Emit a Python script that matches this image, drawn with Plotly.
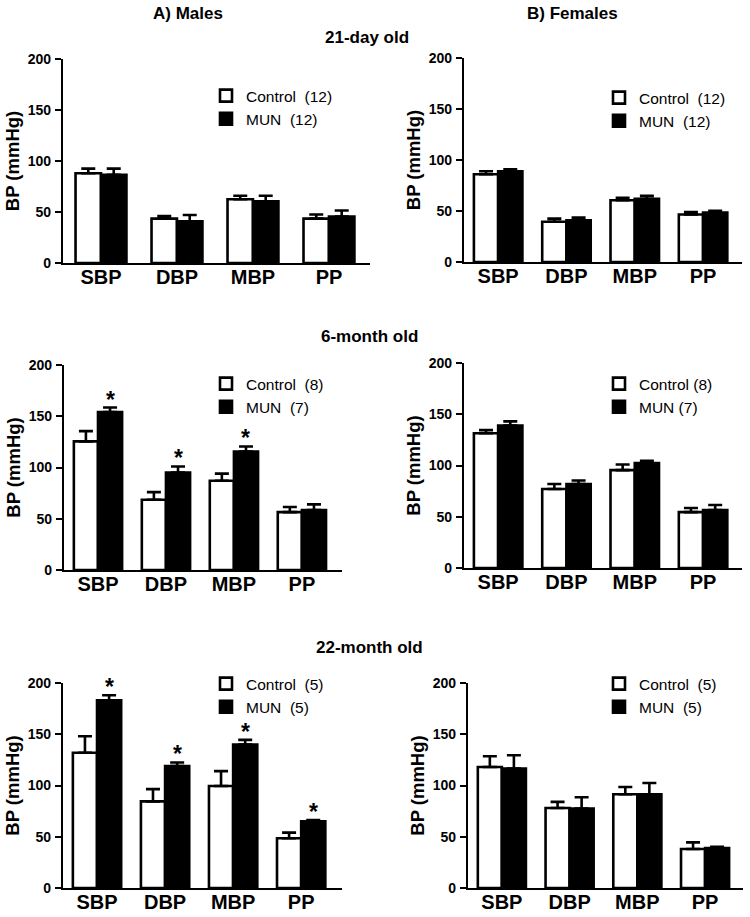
import plotly.graph_objects as go

W, H = 750, 917

categories = ["SBP", "DBP", "MBP", "PP"]

# Males, 21-day old
m21_ctrl = [88, 43.5, 62.5, 43.5]
m21_ctrl_err = [4.5, 2.5, 3.5, 4]
m21_mun = [86.5, 41, 60.5, 45.5]
m21_mun_err = [6, 6, 5.5, 6]
m21_sig = [0, 0, 0, 0]
# Females, 21-day old
f21_ctrl = [86, 39.5, 60.5, 46.5]
f21_ctrl_err = [3, 3, 2.5, 2.5]
f21_mun = [89, 41, 62, 48.5]
f21_mun_err = [2, 2.5, 3, 1.7]
f21_sig = [0, 0, 0, 0]
# Males, 6-month old
m6_ctrl = [125.5, 68.5, 87, 56.5]
m6_ctrl_err = [10, 7.5, 7, 5]
m6_mun = [154, 95, 115.5, 58.5]
m6_mun_err = [4.5, 6, 5, 5.5]
m6_sig = [1, 1, 1, 0]
# Females, 6-month old
f6_ctrl = [131.5, 77, 95.5, 54.5]
f6_ctrl_err = [3, 5, 5.5, 4]
f6_mun = [139, 82, 102.5, 56.5]
f6_mun_err = [4, 3.3, 2, 5]
f6_sig = [0, 0, 0, 0]
# Males, 22-month old
m22_ctrl = [132, 84.5, 99.5, 48.5]
m22_ctrl_err = [16, 12, 14.5, 5.5]
m22_mun = [183, 119, 140, 65]
m22_mun_err = [5, 3.5, 4.5, 1.2]
m22_sig = [1, 1, 1, 1]
# Females, 22-month old
f22_ctrl = [118, 78, 91.5, 38]
f22_ctrl_err = [10.5, 6, 7, 6.5]
f22_mun = [116.5, 77.5, 91.5, 39]
f22_mun_err = [13, 11, 11, 1.2]
f22_sig = [0, 0, 0, 0]

ctrl_labels = ["Control\u00a0\u00a0(12)", "Control\u00a0\u00a0(12)", "Control\u00a0\u00a0(8)",
               "Control\u00a0(8)", "Control\u00a0\u00a0(5)", "Control\u00a0\u00a0(5)"]
mun_labels = ["MUN\u00a0\u00a0(12)", "MUN\u00a0\u00a0(12)", "MUN\u00a0\u00a0(7)",
              "MUN\u00a0(7)", "MUN\u00a0\u00a0(5)", "MUN\u00a0\u00a0(5)"]

panels = [
    (m21_ctrl, m21_ctrl_err, m21_mun, m21_mun_err, m21_sig),
    (f21_ctrl, f21_ctrl_err, f21_mun, f21_mun_err, f21_sig),
    (m6_ctrl, m6_ctrl_err, m6_mun, m6_mun_err, m6_sig),
    (f6_ctrl, f6_ctrl_err, f6_mun, f6_mun_err, f6_sig),
    (m22_ctrl, m22_ctrl_err, m22_mun, m22_mun_err, m22_sig),
    (f22_ctrl, f22_ctrl_err, f22_mun, f22_mun_err, f22_sig),
]

# layout geometry in pixels: (x0, x1, y_top, y_bottom, xrange_end, bar_width)
geom = [
    (63, 370, 59, 263, 3.54, 0.335),
    (464, 742, 58, 262, 3.57, 0.355),
    (64, 342, 365, 570, 3.59, 0.355),
    (464, 742, 363, 568, 3.57, 0.355),
    (63, 342, 683, 888, 3.6, 0.355),
    (468, 743, 683, 888, 3.56, 0.355),
]
legend_pos = [(206, 79), (599, 81), (206, 367), (599, 367), (206, 667), (599, 667)]

FONT = "Liberation Sans, Arial, sans-serif"
fig = go.Figure()
layout = dict(
    width=W, height=H, margin=dict(l=0, r=0, t=0, b=0, autoexpand=False),
    paper_bgcolor="white", plot_bgcolor="white",
    font=dict(family=FONT, color="black"),
    showlegend=True, barmode="overlay",
)
annotations = []

for k, (ctrl, ctrl_err, mun, mun_err, sig) in enumerate(panels):
    n = k + 1
    xs = "" if n == 1 else str(n)
    x0, x1, yt, yb, xend, bw = geom[k]
    leg = "legend" if n == 1 else f"legend{n}"
    idx = list(range(len(categories)))
    fig.add_trace(go.Bar(
        x=idx, y=ctrl, width=bw, offset=-bw, name=ctrl_labels[k],
        marker=dict(color="white", line=dict(color="black", width=2.6)),
        error_y=dict(type="data", symmetric=False, array=ctrl_err,
                     arrayminus=[0] * len(ctrl), color="black", thickness=2.6, width=7),
        xaxis="x" + xs, yaxis="y" + xs, legend=leg,
    ))
    fig.add_trace(go.Bar(
        x=idx, y=mun, width=bw, offset=0, name=mun_labels[k],
        marker=dict(color="black", line=dict(color="black", width=2.6)),
        error_y=dict(type="data", symmetric=False, array=mun_err,
                     arrayminus=[0] * len(mun), color="black", thickness=2.6, width=7),
        xaxis="x" + xs, yaxis="y" + xs, legend=leg,
    ))
    for i, s in enumerate(sig):
        if s:
            annotations.append(dict(
                x=i + bw / 2, y=mun[i] + mun_err[i], xref="x" + xs, yref="y" + xs,
                text="*", showarrow=False, yanchor="bottom", yshift=-7,
                font=dict(size=23, family=FONT, color="black", weight="bold"),
            ))
    layout["xaxis" + xs] = dict(
        domain=[x0 / W, x1 / W], anchor="y" + xs, range=[-0.5, xend],
        tickmode="array", tickvals=idx, ticktext=categories,
        showline=True, linecolor="black", linewidth=2.2, ticks="",
        showgrid=False, zeroline=False, ticklabelstandoff=-5,
        tickfont=dict(size=20, family=FONT, color="black", weight="bold"),
        fixedrange=True, automargin=False,
    )
    layout["yaxis" + xs] = dict(
        domain=[1 - yb / H, 1 - yt / H], anchor="x" + xs, range=[0, 200],
        tickvals=[0, 50, 100, 150, 200],
        showline=True, linecolor="black", linewidth=2.2,
        ticks="outside", ticklen=6, tickwidth=2.2, tickcolor="black",
        showgrid=False, zeroline=False, ticklabelstandoff=1,
        tickfont=dict(size=14, family=FONT, color="black", weight="bold"),
        title=dict(text="BP (mmHg)", standoff=3,
                   font=dict(size=18.5, family=FONT, color="black", weight="bold")),
        fixedrange=True, automargin=False,
    )
    lx, ly = legend_pos[k]
    layout[leg] = dict(
        x=lx / W, y=1 - ly / H, xanchor="left", yanchor="top",
        bgcolor="rgba(0,0,0,0)", traceorder="normal", tracegroupgap=0,
        font=dict(size=15.5, family=FONT, color="black"),
    )

titles = [("A) Males", 188, 13), ("B) Females", 572, 13), ("21-day old", 367, 37),
          ("6-month old", 369, 337), ("22-month old", 369, 647)]
for t, px, py in titles:
    annotations.append(dict(
        x=px / W, y=1 - py / H, xref="paper", yref="paper", text=t, showarrow=False,
        xanchor="center", yanchor="middle",
        font=dict(size=17, family=FONT, color="black", weight="bold"),
    ))

layout["annotations"] = annotations
fig.update_layout(**layout)
fig.write_html(
    "out.html",
    config={"displayModeBar": False},
    post_script="document.body.style.margin='0px';document.body.style.padding='0px';",
)
